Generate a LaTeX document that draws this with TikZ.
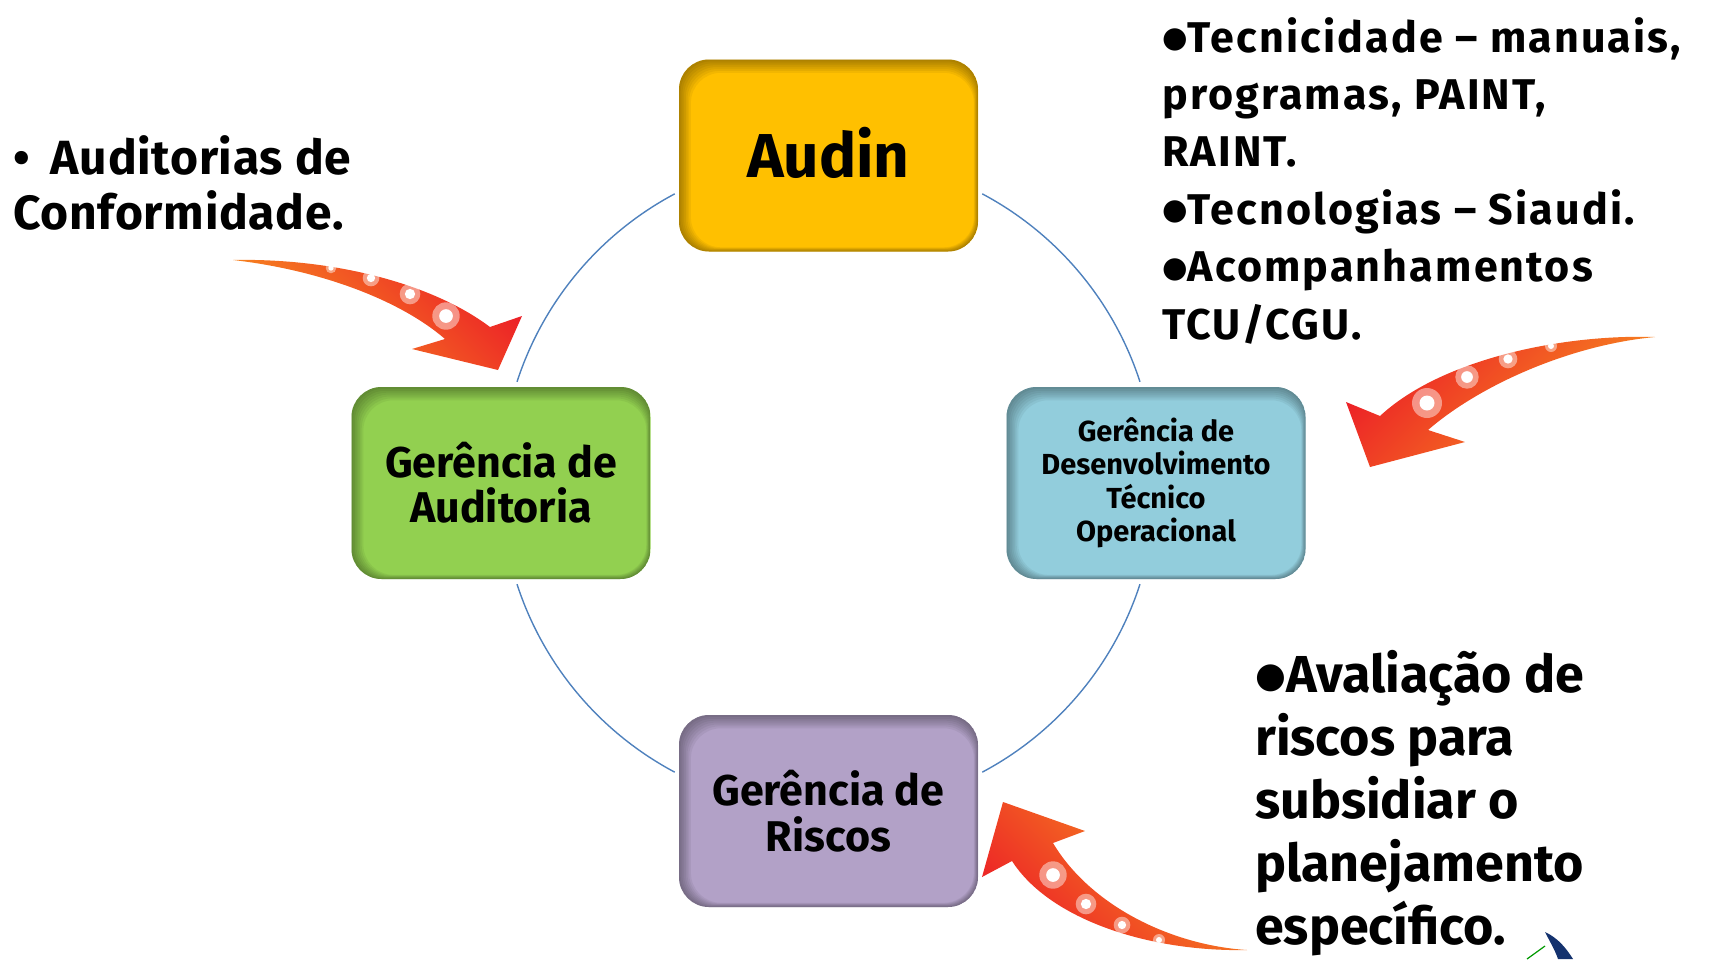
\documentclass[tikz,border=0pt]{standalone}
\usepackage{fontspec}
\usepackage{graphicx}
\setmainfont{Fira Sans}
\newfontfamily\symfont{DejaVu Sans}
\usetikzlibrary{calc}
\definecolor{audinyellow}{RGB}{255,192,0}
\definecolor{audgreen}{RGB}{146,208,80}
\definecolor{devblue}{RGB}{146,205,220}
\definecolor{riskpurple}{RGB}{178,161,199}
\definecolor{ringblue}{RGB}{79,129,189}
\definecolor{arrred}{RGB}{236,32,39}
\definecolor{arrorange}{RGB}{248,150,30}
\definecolor{logoblue}{RGB}{20,50,110}
\newcommand{\bigdot}{{\symfont\raisebox{0.1em}{\scalebox{0.68}{●}}}}
\tikzset{
    unitbox/.style={rectangle, rounded corners=30pt, fill=#1, minimum width=299pt, minimum height=192pt, align=center, inner sep=0pt,
        path picture={
            \foreach \s in {1,...,7}{
                \fill[black, opacity=0.05, even odd rule, rounded corners=30pt]
                    (path picture bounding box.south west) rectangle (path picture bounding box.north east)
                    ([shift={(\s*1.7pt,-\s*1.9pt)}]path picture bounding box.north west) rectangle ([shift={(-\s*0.6pt,\s*0.6pt)}]path picture bounding box.south east);
            }
        }},
    ring/.style={draw=ringblue, line width=1.4pt},
    note/.style={align=left, inner sep=0pt, anchor=north west},
    curlyarrow/.style={draw=none},
    halo/.style={fill=white, opacity=0.45},
    core/.style={fill=white}
}

\begin{document}
\begin{tikzpicture}[x=1pt, y=-1pt]
    \useasboundingbox (0,0) rectangle (1721,959);

    % Ring between the units
    \coordinate (hub) at (828.5,483);
    \foreach \a in {18,118,198,298}
        \draw[ring] ($(hub)+(-\a:327.5)$) arc[start angle=-\a, end angle=-\a-44, radius=327.5];

    % Units
    \node[unitbox=audinyellow, font=\bfseries\fontsize{62}{64}\selectfont] (audin) at (828.5,155.5) {\raisebox{6pt}{Audin}};
    \node[unitbox=audgreen, font=\bfseries\fontsize{43}{45}\selectfont] (gaud) at (501,483) {Gerência de\\Auditoria};
    \node[unitbox=devblue, font=\bfseries\fontsize{29}{33.5}\selectfont] (gdev) at (1156,483) {Gerência de\\Desenvolvimento\\Técnico\\Operacional};
    \node[unitbox=riskpurple, font=\bfseries\fontsize{43}{46}\selectfont] (grisk) at (828.5,811) {Gerência de\\Riscos};

    % Notes
    \node[note, font=\bfseries\fontsize{48}{55}\selectfont\addfontfeatures{LetterSpace=1.5}] (conf) at (13,135) {•\hspace{9pt} Auditorias de\\Conformidade.};
    \node[note, font=\bfseries\fontsize{43}{57.4}\selectfont\addfontfeatures{LetterSpace=5}] (tech) at (1162,17) {\bigdot Tecnicidade – manuais,\\programas, PAINT,\\RAINT.\\\bigdot Tecnologias – Siaudi.\\\bigdot Acompanhamentos\\TCU/CGU.};
    \node[note, font=\bfseries\fontsize{52}{63}\selectfont] (plan) at (1255,650) {\bigdot Avaliação de\\riscos para\\subsidiar o\\planejamento\\específico.};

    % Curved arrows
    \shade[curlyarrow, top color=arrred, bottom color=arrorange, shading angle=-45]
        (233,260) .. controls (330,258) and (430,282) .. (490,327) -- (522,316) -- (498,370) -- (412,349) -- (445,339)
        .. controls (400,300) and (320,270) .. (233,260) -- cycle;
    \shade[curlyarrow, top color=arrred, bottom color=arrorange, shading angle=45]
        (1655,337) .. controls (1560,334) and (1440,360) .. (1380,416) -- (1346,402) -- (1370,467) -- (1465,442) -- (1428,430)
        .. controls (1480,385) and (1570,345) .. (1655,337) -- cycle;
    \shade[curlyarrow, top color=arrorange, bottom color=arrred, shading angle=-45]
        (1247,950) .. controls (1170,945) and (1090,905) .. (1053,843) -- (1085,831) -- (1003,802) -- (982,877) -- (1012,861)
        .. controls (1050,920) and (1150,952) .. (1247,950) -- cycle;
    \foreach \x/\y/\r in {331/268/5.3, 371/278/8.3, 410/294/10.3, 446/316/13.7,
                          1551/346/6, 1508/359/9.3, 1467/377/11.7, 1427/403/15,
                          1159/940/6, 1122/925/8.3, 1086/904/10.3, 1053/875/13.7}{
        \fill[halo] (\x,\y) circle[radius=\r];
        \fill[core] (\x,\y) circle[radius=0.5*\r];
    }

    % Logo corner
    \fill[logoblue] (1545,932) .. controls (1558,938) and (1566,948) .. (1573,959) -- (1558,959) .. controls (1555,950) and (1550,942) .. (1545,932) -- cycle;
    \draw[green!60!black, line width=1.2pt] (1527,959) -- (1545,946);
\end{tikzpicture}
\end{document}
